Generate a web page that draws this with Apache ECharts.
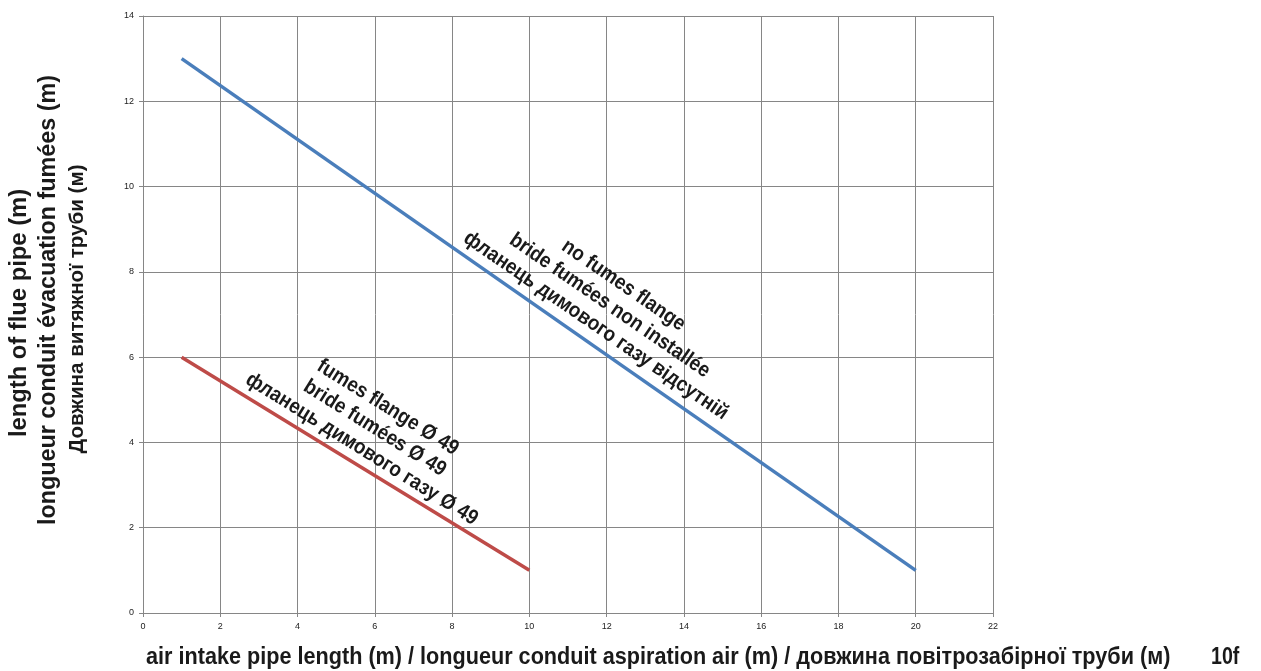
<!DOCTYPE html>
<html><head><meta charset="utf-8">
<script src="https://cdn.jsdelivr.net/npm/echarts@6/dist/echarts.min.js"></script>
<style>html,body{margin:0;padding:0;background:#fff}#c{width:1261px;height:671px}</style>
</head><body><div id="c"></div>
<script>
const xTicks = [0,2,4,6,8,10,12,14,16,18,20,22];
const yTicks = [0,2,4,6,8,10,12,14];
const noFlangeX = [1, 20];
const noFlangeY = [13, 1];
const flangeX = [1, 10];
const flangeY = [6, 1];
const noFlangeLabel = "no fumes flange\nbride fumées non installée\nфланець димового газу відсутній";
const flangeLabel = "fumes flange Ø 49\nbride fumées Ø 49\nфланець димового газу Ø 49";
const xTitle = "air intake pipe length (m) / longueur conduit aspiration air (m) / довжина повітрозабірної труби (м)";
const yTitleLines = ["length of flue pipe (m)", "longueur conduit évacuation fumées (m)", "Довжина витяжної труби (м)"];
const code = "10f";
// label anchor points in data units
const noFlangeAnchor = [12.08, 7.21];
const flangeAnchor = [6.0, 4.33];

const chart = echarts.init(document.getElementById('c'));
const fontFam = '"Liberation Sans", Arial, sans-serif';
const option = {
  animation: false,
  grid: {left: 143, right: 268, top: 16, bottom: 58, containLabel: false},
  xAxis: {
    type: 'value', min: xTicks[0], max: xTicks[xTicks.length-1], interval: 2,
    axisLine: {show: true, lineStyle: {color: '#868686', width: 1}},
    axisTick: {show: true, length: 4, lineStyle: {color: '#868686'}},
    splitLine: {show: true, lineStyle: {color: '#868686', width: 1}},
    axisLabel: {fontSize: 9, color: '#222', margin: 9, fontFamily: fontFam}
  },
  yAxis: {
    type: 'value', min: yTicks[0], max: yTicks[yTicks.length-1], interval: 2,
    axisLine: {show: true, lineStyle: {color: '#868686', width: 1}},
    axisTick: {show: true, length: 4, lineStyle: {color: '#868686'}},
    splitLine: {show: true, lineStyle: {color: '#868686', width: 1}},
    axisLabel: {fontSize: 9, color: '#222', margin: 9, fontFamily: fontFam}
  },
  series: [
    {type: 'line', data: noFlangeX.map((x,i)=>[x, noFlangeY[i]]), symbol: 'none',
     lineStyle: {color: '#4A7EBB', width: 3.5}, itemStyle: {color: '#4A7EBB'}},
    {type: 'line', data: flangeX.map((x,i)=>[x, flangeY[i]]), symbol: 'none',
     lineStyle: {color: '#BE4B48', width: 3.5}, itemStyle: {color: '#BE4B48'}}
  ]
};
chart.setOption(option);

const p1 = chart.convertToPixel({gridIndex: 0}, noFlangeAnchor);
const p2 = chart.convertToPixel({gridIndex: 0}, flangeAnchor);
const ink = '#1a1a1a';
chart.setOption({
  graphic: [
    {type: 'text', x: p1[0], y: p1[1], rotation: -34.5*Math.PI/180, scaleX: 0.9,
     style: {text: noFlangeLabel, font: 'bold 21px ' + fontFam, fill: ink, align: 'center', verticalAlign: 'middle', lineHeight: 24.5}},
    {type: 'text', x: p2[0], y: p2[1], rotation: -32*Math.PI/180, scaleX: 0.9,
     style: {text: flangeLabel, font: 'bold 21px ' + fontFam, fill: ink, align: 'center', verticalAlign: 'middle', lineHeight: 24.5}},
    {type: 'text', x: 19, y: 313, rotation: Math.PI/2, scaleX: 0.97,
     style: {text: yTitleLines[0], font: 'bold 24.5px ' + fontFam, fill: ink, align: 'center', verticalAlign: 'middle'}},
    {type: 'text', x: 48, y: 300, rotation: Math.PI/2, scaleX: 0.953,
     style: {text: yTitleLines[1], font: 'bold 24.5px ' + fontFam, fill: ink, align: 'center', verticalAlign: 'middle'}},
    {type: 'text', x: 77, y: 309, rotation: Math.PI/2, scaleX: 0.98,
     style: {text: yTitleLines[2], font: 'bold 21px ' + fontFam, fill: ink, align: 'center', verticalAlign: 'middle'}},
    {type: 'text', x: 146, y: 657, scaleX: 0.883,
     style: {text: xTitle, font: 'bold 24.5px ' + fontFam, fill: ink, align: 'left', verticalAlign: 'middle'}},
    {type: 'text', x: 1211, y: 657, scaleX: 0.8,
     style: {text: code, font: 'bold 24.5px ' + fontFam, fill: ink, align: 'left', verticalAlign: 'middle'}}
  ]
});
</script></body></html>
